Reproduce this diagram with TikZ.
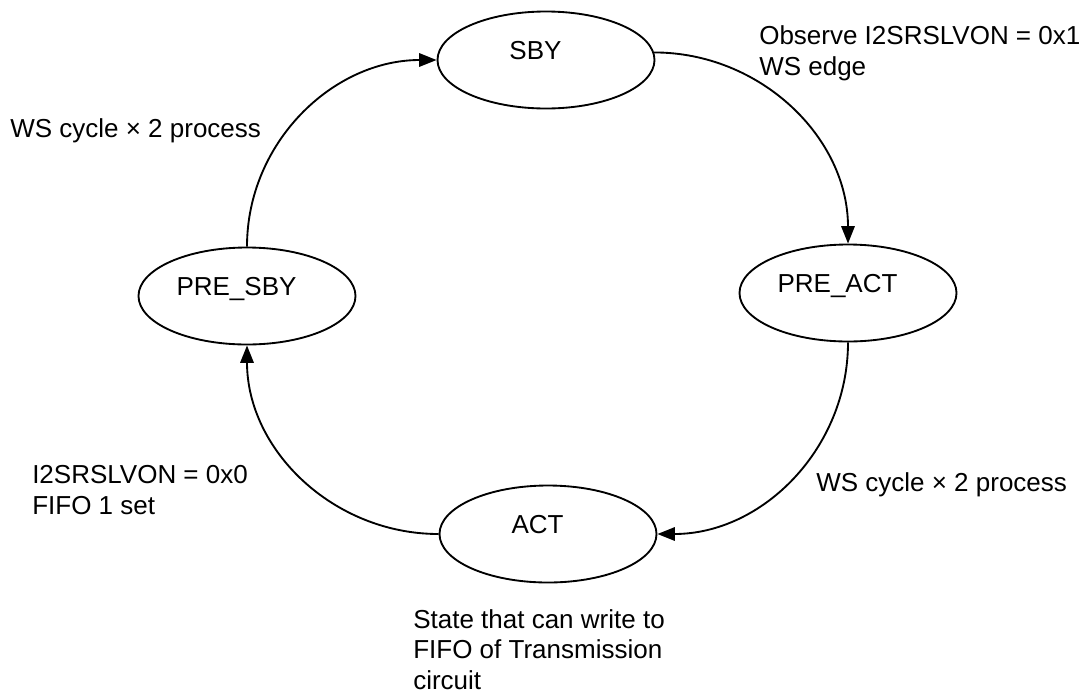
\documentclass[tikz,border=0pt]{standalone}
\usepackage{fontspec}
\setmainfont{Liberation Sans}
\usetikzlibrary{shapes.geometric,arrows.meta}
\begin{document}
\begin{tikzpicture}[x=0.75pt,y=-0.75pt,
  state/.style={draw, line width=1.4pt, ellipse, minimum width=162.75pt, minimum height=72.75pt, inner sep=0pt},
  stext/.style={font=\fontsize{19.5}{24}\selectfont, inner sep=0pt, anchor=base},
  lbl/.style={font=\fontsize{19.5}{23.5}\selectfont, inner sep=0pt, align=left},
  trans/.style={line width=1.4pt, -{Triangle[length=13pt,width=10pt]}}]
\useasboundingbox (0,0) rectangle (1092,697);

% states
\node[state] (sby)    at (546,60)  {};
\node[state] (preact) at (848,293) {};
\node[state] (act)    at (548,534) {};
\node[state] (presby) at (247,296) {};

\node[stext] (sbyt)    at ([shift={(-10.5,-0.5)}]sby.center)    {SBY};
\node[stext] (preactt) at ([shift={(-10.5,-0.5)}]preact.center) {PRE\_ACT};
\node[stext] (actt)    at ([shift={(-10.5,-0.5)}]act.center)    {ACT};
\node[stext] (presbyt) at ([shift={(-10.5,-0.5)}]presby.center) {PRE\_SBY};

% transitions
\draw[trans] (sby.4) to[out=0,in=90] (preact.north);
\draw[trans] (preact.south) to[out=-90,in=0] (act.east);
\draw[trans] (act.west) to[out=180,in=-90] (presby.south);
\draw[trans] (presby.north) to[out=90,in=180] (sby.west);

% labels
\node[lbl, anchor=north west] (lobs) at (759,25) {Observe I2SRSLVON = 0x1\\WS edge};
\node[lbl, anchor=base west] (lws1) at (816,491) {WS cycle × 2 process};
\node[lbl, anchor=north west] (loff) at (32,465) {I2SRSLVON = 0x0\\FIFO 1 set};
\node[lbl, anchor=base west] (lws2) at (10,137) {WS cycle × 2 process};
\node[lbl, anchor=north west, font=\fontsize{19.5}{23}\selectfont] (lact) at (413,609) {State that can write to\\FIFO of Transmission\\circuit};
\end{tikzpicture}
\end{document}
